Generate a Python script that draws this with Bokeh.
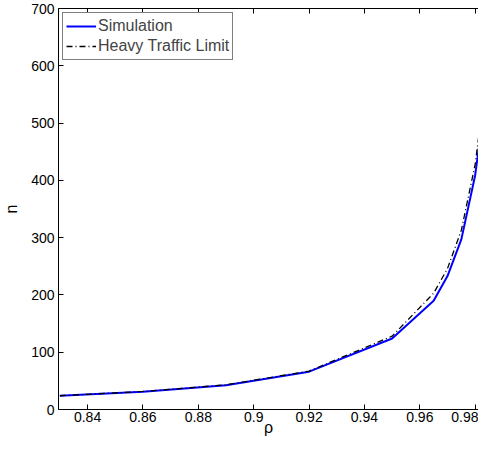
from bokeh.plotting import figure
from bokeh.models import LinearAxis, Range1d, Legend, LegendItem, FixedTicker
from bokeh.embed import file_html
from bokeh.resources import INLINE

rho = [0.83, 0.86, 0.89, 0.92, 0.95, 0.965, 0.97, 0.975, 0.98, 0.985]
simulation = [24, 31, 42.5, 66, 124, 190, 233, 297, 409, 590]
heavy_traffic = [24, 31.5, 43, 67, 128, 203, 246, 313, 428, 618]
x_ticks = [0.84, 0.86, 0.88, 0.90, 0.92, 0.94, 0.96, 0.98]
y_ticks = [0, 100, 200, 300, 400, 500, 600, 700]

FONT = "Liberation Sans"

p = figure(width=478, height=439, output_backend="svg", toolbar_location=None,
           x_range=Range1d(0.8295, 0.9812), y_range=Range1d(0, 700),
           x_axis_location=None, y_axis_location=None,
           min_border_left=48, min_border_top=8, min_border_right=0, min_border_bottom=30)
p.outline_line_color = None
p.xgrid.visible = False
p.ygrid.visible = False
p.background_fill_color = "white"

def style_axis(ax, labels=True):
    ax.axis_line_color = "black"
    ax.axis_line_width = 1
    ax.major_tick_in = 5
    ax.major_tick_out = 0
    ax.minor_tick_line_color = None
    ax.major_tick_line_color = "black"
    ax.major_label_text_font = FONT
    ax.major_label_text_font_size = "14px" if labels else "0px"
    ax.major_label_text_color = "black"
    ax.major_label_standoff = 2 if labels else 0
    ax.axis_label_text_font = FONT
    ax.axis_label_text_font_size = "16px"
    ax.axis_label_text_font_style = "normal"
    ax.axis_label_text_color = "black"
    ax.axis_label_standoff = 0

xb = LinearAxis(ticker=FixedTicker(ticks=x_ticks), axis_label="ρ")
style_axis(xb)
xb.axis_label_standoff = -6
xb.major_label_overrides = {0.9: "0.9"}
p.add_layout(xb, "below")

xt = LinearAxis(ticker=FixedTicker(ticks=x_ticks))
style_axis(xt, labels=False)
xt.major_label_text_alpha = 0
p.add_layout(xt, "above")

yl = LinearAxis(ticker=FixedTicker(ticks=y_ticks), axis_label="n")
style_axis(yl)
yl.major_label_standoff = 4
yl.axis_label_standoff = 8
p.add_layout(yl, "left")

r_sim = p.line(rho, simulation, line_color="#0000ff", line_width=2)
r_htl = p.line(rho, heavy_traffic, line_color="black", line_width=1.3, line_dash="6 3 1 3")

legend = Legend(items=[LegendItem(label="Simulation", renderers=[r_sim]),
                       LegendItem(label="Heavy Traffic Limit", renderers=[r_htl])],
                location="top_left")
legend.margin = 4
legend.padding = 3
legend.spacing = 0
legend.glyph_width = 30
legend.glyph_height = 20
legend.label_height = 20
legend.label_standoff = 2
legend.label_text_font = FONT
legend.label_text_font_size = "16px"
legend.border_line_color = "black"
legend.border_line_width = 1
legend.background_fill_alpha = 1
p.add_layout(legend, "center")

open("out.html", "w").write(file_html(p, INLINE))
